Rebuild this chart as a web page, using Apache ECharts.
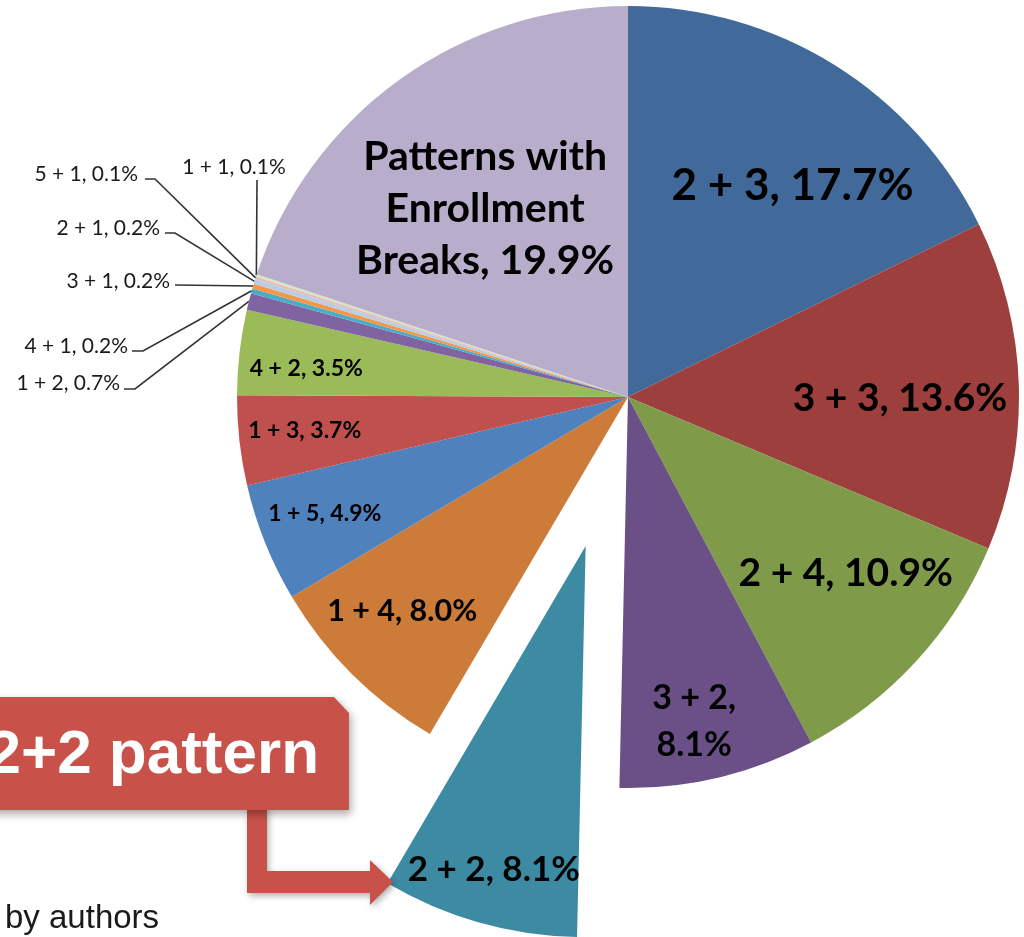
<!DOCTYPE html>
<html>
<head>
<meta charset="utf-8">
<script src="https://cdn.jsdelivr.net/npm/echarts@6/dist/echarts.min.js"></script>
<style>
    html, body { margin: 0; padding: 0; background: #fff; }
    #chart { width: 1024px; height: 937px; }
</style>
</head>
<body>
<div id="chart"></div>
<script>
// data (share of students, %)
const patterns = ['2 + 3', '3 + 3', '2 + 4', '3 + 2', '2 + 2', '1 + 4', '1 + 5', '1 + 3', '4 + 2',
    '1 + 2', '4 + 1', '3 + 1', '2 + 1', '5 + 1', '1 + 1', 'Patterns with Enrollment Breaks'];
const shares = [17.7, 13.6, 10.9, 8.1, 8.1, 8.0, 4.9, 3.7, 3.5, 0.7, 0.2, 0.2, 0.2, 0.1, 0.1, 19.9];
const highlighted = '2 + 2';
const calloutText = '2+2 pattern';
const sourceText = 'by authors';

const colors = ['#416A9A', '#9D3F3D', '#7F9B4A', '#6A5087', '#3C8BA3', '#CD7B38', '#4F81BD', '#C0504D',
    '#9BBB59', '#8064A2', '#4BACC6', '#F79646', '#B9CDE5', '#E6B9B8', '#D7E4BD', '#B8AECB'];

// layout
const CX = 628;
const CY = 397;
const R = 391;
const EXPLODE = 155;

// inner labels: [radius from centre px, angle nudge deg, font size, line height]
const innerLabels = {
    '2 + 3': [268, 6, 44],
    '3 + 3': [272, 2, 39],
    '2 + 4': [280, -3.5, 39],
    '3 + 2': [331, 1.8, 34, 47],
    '2 + 2': [336, 0, 35],
    '1 + 4': [311, 1.7, 30.5],
    '1 + 5': [325, 0.8, 23],
    '1 + 3': [325, 0.5, 23],
    '4 + 2': [323, -1.5, 23],
    'Patterns with Enrollment Breaks': [236, -1.4, 41, 52],
};
// outer labels: text anchor and the leader line (elbow, end)
const outerLabels = {
    '1 + 2': { x: 120, y: 383, align: 'right', line: [[135, 389], [124, 389]] },
    '4 + 1': { x: 128, y: 346, align: 'right', line: [[143, 351], [132, 351]] },
    '3 + 1': { x: 170, y: 281, align: 'right', line: [[175, 285]] },
    '2 + 1': { x: 160, y: 228, align: 'right', line: [[175, 233], [165, 233]] },
    '5 + 1': { x: 138, y: 174, align: 'right', line: [[155, 179], [145, 179]] },
    '1 + 1': { x: 234, y: 167, align: 'center', line: [[257, 180]] },
};
const wrap = {
    '3 + 2': (s) => s.replace(', ', ',\n'),
    'Patterns with Enrollment Breaks': (s) => s.replace(' Enrollment ', '\nEnrollment\n'),
};

const total = shares.reduce((a, b) => a + b, 0);
const midAngle = (i) => {
    let c = 0;
    for (let k = 0; k < i; k++) c += shares[k];
    return ((c + shares[i] / 2) / total) * 2 * Math.PI;
};
const polar = (c, r, a) => [c[0] + r * Math.sin(a), c[1] - r * Math.cos(a)];

const hi = patterns.indexOf(highlighted);
const explodedCenter = polar([CX, CY], EXPLODE, midAngle(hi));
const centers = [[CX, CY], explodedCenter];

const fmt = (p) => {
    const s = `${p.name}, ${p.value.toFixed(1)}%`;
    return wrap[p.name] ? wrap[p.name](s) : s;
};

const makeData = (seriesIdx) => patterns.map((name, i) => {
    const own = seriesIdx === 0 ? i !== hi : i === hi;
    const item = {
        name,
        value: shares[i],
        itemStyle: { color: own ? colors[i] : 'rgba(0,0,0,0)' },
    };
    if (!own) {
        item.label = { show: false };
        item.labelLine = { show: false };
    } else if (innerLabels[name]) {
        const cfg = innerLabels[name];
        item.label = {
            position: 'inside',
            fontSize: cfg[2],
            fontWeight: 'bold',
            lineHeight: cfg[3] || cfg[2] * 1.2,
            color: '#000',
        };
        item.labelLine = { show: false };
    }
    return item;
});

const placeLabel = (seriesIdx) => (p) => {
    const name = patterns[p.dataIndex];
    const a = midAngle(p.dataIndex);
    const inner = innerLabels[name];
    if (inner) {
        const pt = polar(centers[seriesIdx], inner[0], a + (inner[1] * Math.PI) / 180);
        return { x: pt[0], y: pt[1], align: 'center', verticalAlign: 'middle', hideOverlap: false };
    }
    const outer = outerLabels[name];
    if (outer) {
        const anchor = polar(centers[seriesIdx], R, a);
        return {
            x: outer.x,
            y: outer.y,
            align: outer.align,
            verticalAlign: 'middle',
            hideOverlap: false,
            labelLinePoints: [anchor, ...outer.line],
        };
    }
    return { hideOverlap: false };
};

const chart = echarts.init(document.getElementById('chart'));

const baseSeries = {
    type: 'pie',
    radius: R,
    startAngle: 90,
    clockwise: true,
    avoidLabelOverlap: false,
    silent: true,
    emphasis: { disabled: true },
    itemStyle: { borderWidth: 0 },
    label: {
        show: true,
        position: 'outside',
        formatter: fmt,
        fontFamily: 'Lato',
        fontSize: 21,
        color: '#1a1a1a',
    },
    labelLine: {
        show: true,
        lineStyle: { color: '#333', width: 1.6 },
    },
};

const option = {
    backgroundColor: '#fff',
    animation: false,
    series: [
        { ...baseSeries, center: centers[0], data: makeData(0), z: 2, labelLayout: placeLabel(0) },
        { ...baseSeries, center: centers[1], data: makeData(1), z: 3, labelLayout: placeLabel(1) },
    ],
    graphic: [
        {
            type: 'polygon',
            z: 100,
            shape: { points: [[-30, 697], [334, 697], [349, 713], [349, 810], [-30, 810]] },
            style: {
                fill: '#C8524A',
                shadowBlur: 8,
                shadowOffsetX: 2,
                shadowOffsetY: 4,
                shadowColor: 'rgba(0,0,0,0.35)',
            },
        },
        {
            type: 'polygon',
            z: 99,
            shape: {
                points: [[247, 805], [267, 805], [267, 871], [370, 871], [370, 860], [393, 882],
                    [370, 905], [370, 893], [247, 893]],
            },
            style: {
                fill: '#C8524A',
                shadowBlur: 6,
                shadowOffsetX: 2,
                shadowOffsetY: 3,
                shadowColor: 'rgba(0,0,0,0.3)',
            },
        },
        {
            type: 'text',
            z: 101,
            x: 319,
            y: 756,
            style: {
                text: calloutText,
                font: 'bold 62px "Liberation Sans", Arial, sans-serif',
                fill: '#fff',
                align: 'right',
                verticalAlign: 'middle',
                textAlign: 'right',
                textVerticalAlign: 'middle',
            },
        },
        {
            type: 'text',
            z: 101,
            x: 5,
            y: 919,
            style: {
                text: sourceText,
                font: '33px "Liberation Sans", Arial, sans-serif',
                fill: '#1a1a1a',
                align: 'left',
                verticalAlign: 'middle',
                textAlign: 'left',
                textVerticalAlign: 'middle',
            },
        },
    ],
};

chart.setOption(option);
</script>
</body>
</html>
